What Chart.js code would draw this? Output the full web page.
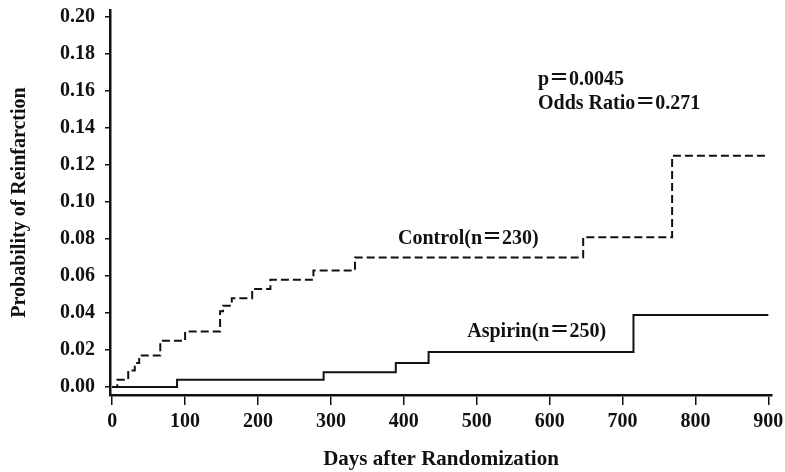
<!DOCTYPE html>
<html lang="en">
<head>
    <meta charset="UTF-8">
    <title>Reinfarction: Aspirin vs Control</title>
    <script src="https://cdn.jsdelivr.net/npm/chart.js"></script>
    <style>
        html, body { margin: 0; padding: 0; background: #fff; }
        #wrap { width: 785px; height: 472px; }
    </style>
</head>
<body>
    <div id="wrap"><canvas id="chart"></canvas></div>
    <script>
        // step points: day at which the curve jumps, and the new value
        const controlDays = [0, 7, 22, 31, 37, 66, 100, 148, 152, 164, 192, 217, 276, 333, 646, 768, 900];
        const controlProb = [0, 0.004, 0.009, 0.013, 0.017, 0.025, 0.030, 0.041, 0.044, 0.048, 0.053, 0.058, 0.063, 0.070, 0.081, 0.125, 0.125];
        const aspirinDays = [0, 89, 290, 389, 434, 715, 900];
        const aspirinProb = [0, 0.004, 0.008, 0.013, 0.019, 0.039, 0.039];

        const xTicks = [0, 100, 200, 300, 400, 500, 600, 700, 800, 900];
        const yTicks = [0, 0.02, 0.04, 0.06, 0.08, 0.10, 0.12, 0.14, 0.16, 0.18, 0.20];

        const controlLabel = 'Control(n＝230)';
        const aspirinLabel = 'Aspirin(n＝250)';
        const statLines = ['p＝0.0045', 'Odds Ratio＝0.271'];

        const serif = "'Liberation Serif', 'DejaVu Serif', serif";
        // the wide equals sign comes from the CJK font
        const noteFont = "'Liberation Serif', 'Noto Sans CJK JP', serif";

        // text labels placed in data coordinates
        const notes = [
            { text: controlLabel, x: 392, y: 0.0803 },
            { text: aspirinLabel, x: 487, y: 0.0297 },
            { text: statLines[0], x: 584, y: 0.1662 },
            { text: statLines[1], x: 584, y: 0.153 }
        ];

        const notePlugin = {
            id: 'notes',
            afterDatasetsDraw(chart) {
                const c = chart.ctx;
                const xs = chart.scales.x, ys = chart.scales.y;
                c.save();
                c.fillStyle = '#111';
                c.font = 'bold 20px ' + noteFont;
                c.textAlign = 'left';
                c.textBaseline = 'middle';
                notes.forEach(n => {
                    c.fillText(n.text, xs.getPixelForValue(n.x), ys.getPixelForValue(n.y));
                });
                c.restore();
            }
        };

        const toPoints = (xs, ys) => xs.map((x, i) => ({ x: x, y: ys[i] }));

        new Chart(document.getElementById('chart'), {
            type: 'line',
            data: {
                datasets: [{
                    label: 'Control',
                    data: toPoints(controlDays, controlProb),
                    borderColor: '#111',
                    borderWidth: 2,
                    borderDash: [8, 4],
                    stepped: true,
                    pointRadius: 0,
                    fill: false
                }, {
                    label: 'Aspirin',
                    data: toPoints(aspirinDays, aspirinProb),
                    borderColor: '#111',
                    borderWidth: 2,
                    stepped: true,
                    pointRadius: 0,
                    fill: false
                }]
            },
            options: {
                responsive: true,
                maintainAspectRatio: false,
                animation: false,
                layout: { padding: { top: 10, right: 13, left: 0, bottom: 0 } },
                plugins: {
                    legend: { display: false },
                    tooltip: { enabled: false }
                },
                scales: {
                    x: {
                        type: 'linear',
                        min: -3,
                        max: 905,
                        afterBuildTicks: s => { s.ticks = xTicks.map(v => ({ value: v })); },
                        afterFit: s => { s.height = 77; s.paddingLeft = 0; s.paddingRight = 0; },
                        border: { display: true, color: '#111', width: 2.5 },
                        grid: { drawOnChartArea: false, color: '#111', lineWidth: 1.5, tickLength: 10 },
                        ticks: {
                            color: '#111',
                            padding: 5,
                            maxRotation: 0,
                            font: { family: serif, size: 20, weight: 'bold' },
                            callback: v => String(v)
                        },
                        title: {
                            display: true,
                            text: 'Days after Randomization',
                            color: '#111',
                            padding: { top: 0, bottom: 0 },
                            font: { family: serif, size: 21, weight: 'bold' }
                        }
                    },
                    y: {
                        type: 'linear',
                        min: -0.0043,
                        max: 0.2038,
                        afterBuildTicks: s => { s.ticks = yTicks.map(v => ({ value: v })); },
                        afterFit: s => { s.width = 110; s.paddingTop = 0; s.paddingBottom = 0; },
                        border: { display: true, color: '#111', width: 2.5 },
                        grid: { drawOnChartArea: false, color: '#111', lineWidth: 1.5, tickLength: 5 },
                        ticks: {
                            color: '#111',
                            padding: 10,
                            font: { family: serif, size: 20, weight: 'bold' },
                            callback: v => v.toFixed(2)
                        },
                        title: {
                            display: true,
                            text: 'Probability of Reinfarction',
                            color: '#111',
                            padding: { top: 8, bottom: 0 },
                            font: { family: serif, size: 20, weight: 'bold' }
                        }
                    }
                }
            },
            plugins: [notePlugin]
        });
    </script>
</body>
</html>
